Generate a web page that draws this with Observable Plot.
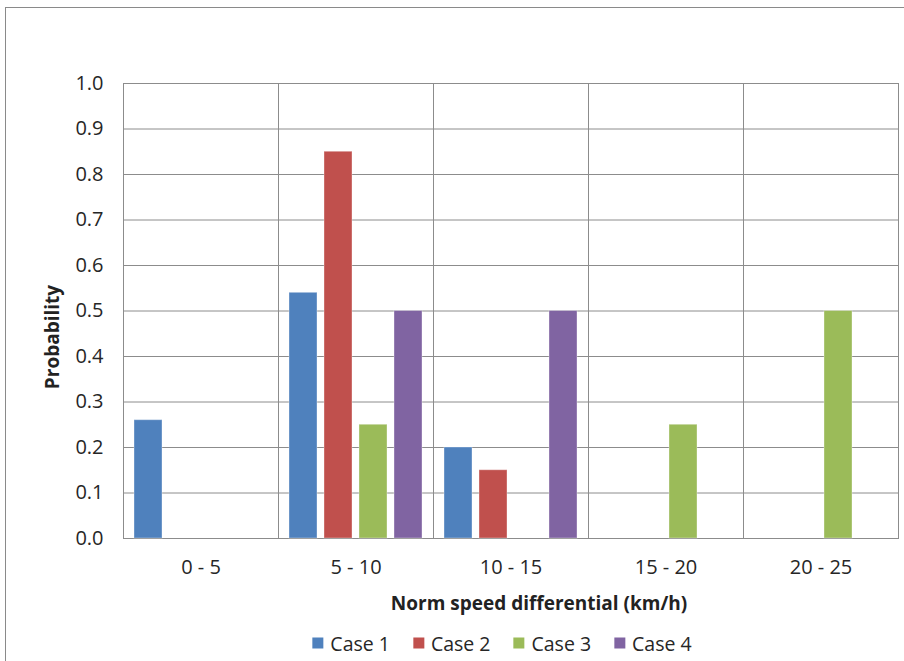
<!DOCTYPE html>
<html>
<head>
<meta charset="utf-8">
<script src="https://cdn.jsdelivr.net/npm/d3@7"></script>
<script src="https://cdn.jsdelivr.net/npm/@observablehq/plot@0.6"></script>
<style>
  html, body { margin: 0; padding: 0; background: #fff; }
  body { width: 904px; height: 661px; position: relative; overflow: hidden; font-family: "Open Sans", sans-serif; color: #222; }
  #border { position: absolute; left: 5px; top: 7px; width: 910px; height: 670px; border: 1px solid #8a8a8a; box-sizing: border-box; }
  #chart { position: absolute; left: 0; top: 0; }
  #chart svg text { font-size: 20px; font-family: "Open Sans", sans-serif; fill: #262626; }
  .xlabel { position: absolute; left: 539px; top: 603px; transform: translate(-50%, -50%); font-weight: bold; font-size: 19px; white-space: nowrap; }
  .ylabel { position: absolute; left: 52px; top: 337px; transform: translate(-50%, -50%) rotate(-90deg); font-weight: bold; font-size: 19px; white-space: nowrap; }
  #legend { position: absolute; left: 502px; top: 643px; transform: translate(-50%, -50%); display: flex; gap: 23px; font-size: 19.5px; white-space: nowrap; color: #262626; }
  #legend span.item { display: flex; align-items: center; gap: 7px; }
  #legend span.sw { width: 11px; height: 11px; display: inline-block; }
</style>
</head>
<body>
<div id="chart"></div>
<div id="border"></div>
<div class="xlabel">Norm speed differential (km/h)</div>
<div class="ylabel">Probability</div>
<div id="legend"></div>
<script>
const categories = ["0 - 5", "5 - 10", "10 - 15", "15 - 20", "20 - 25"];
const cases = ["Case 1", "Case 2", "Case 3", "Case 4"];
const case1 = [0.26, 0.54, 0.20, 0, 0];
const case2 = [0, 0.85, 0.15, 0, 0];
const case3 = [0, 0.25, 0, 0.25, 0.50];
const case4 = [0, 0.50, 0.50, 0, 0];
const colors = ["#4F81BD", "#C0504D", "#9BBB59", "#8064A2"];
const yTicks = [0, 0.1, 0.2, 0.3, 0.4, 0.5, 0.6, 0.7, 0.8, 0.9, 1.0];

const series = [case1, case2, case3, case4];
const data = [];
categories.forEach((c, i) => {
  cases.forEach((k, j) => data.push({cat: c, case: k, value: series[j][i]}));
});

const chart = Plot.plot({
  width: 904,
  height: 620,
  marginLeft: 121,
  marginRight: 4,
  marginTop: 83,
  marginBottom: 82,
  style: {fontFamily: "Open Sans, sans-serif", fontSize: "20px", color: "#262626", background: "transparent"},
  fx: {domain: categories, padding: 0, label: null},
  x: {domain: cases, axis: null, paddingInner: 0.2, paddingOuter: 0.3},
  y: {domain: [0, 1], label: null},
  color: {domain: cases, range: colors},
  marks: [
    Plot.gridY(yTicks, {stroke: "#8c8c8c", strokeOpacity: 1}),
    Plot.axisY(yTicks, {tickSize: 0, tickPadding: 20, tickFormat: d3.format(".1f"), label: null}),
    Plot.axisFx({anchor: "bottom", tickSize: 0, tickPadding: 21, label: null}),
    Plot.frame({stroke: "#8c8c8c"}),
    Plot.barY(data, {fx: "cat", x: "case", y: "value", fill: "case", filter: d => d.value > 0, stroke: "white", strokeOpacity: 0.35})
  ]
});
document.getElementById("chart").appendChild(chart);

const legend = document.getElementById("legend");
cases.forEach((k, j) => {
  const item = document.createElement("span");
  item.className = "item";
  const sw = document.createElement("span");
  sw.className = "sw";
  sw.style.background = colors[j];
  item.appendChild(sw);
  item.appendChild(document.createTextNode(k));
  legend.appendChild(item);
});
</script>
</body>
</html>
